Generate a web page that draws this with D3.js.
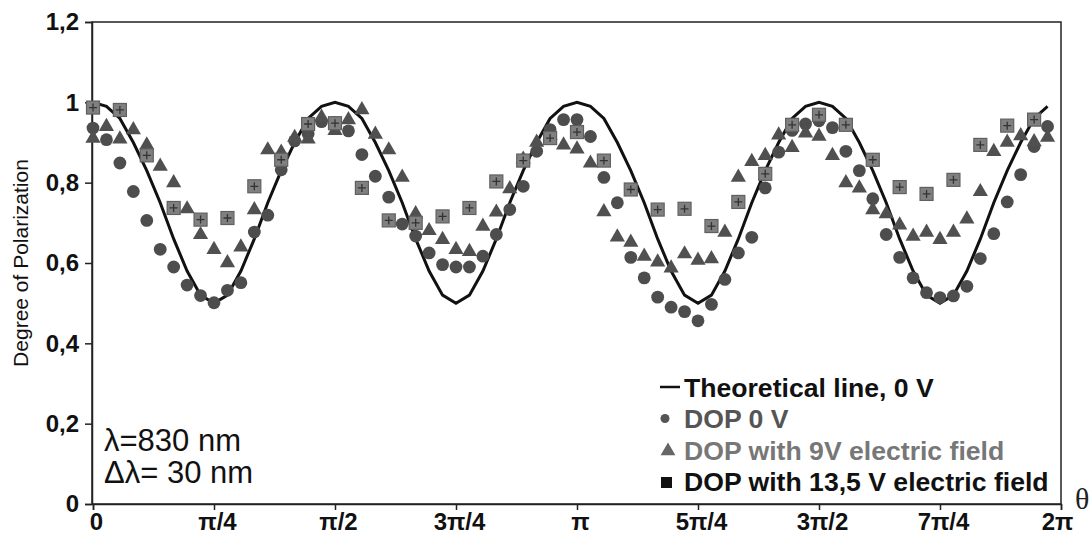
<!DOCTYPE html>
<html>
<head>
<meta charset="utf-8">
<script src="https://cdn.jsdelivr.net/npm/d3@7"></script>
<style>
  body { margin: 0; background: #fff; }
  svg { display: block; }
</style>
</head>
<body>
<div id="vizArea"></div>
<script>
// angle of each sample, degrees (0 .. 355, step 5)
var angles = d3.range(0, 360, 5);

// theoretical curve, 0 V (every 5 degrees)
var theory = [
  1.00, 0.99, 0.96, 0.90, 0.83, 0.75, 0.66, 0.58, 0.52, 0.50, 0.52, 0.58, 0.66, 0.75, 0.83, 0.90, 0.96, 0.99,
  1.00, 0.99, 0.96, 0.90, 0.83, 0.75, 0.66, 0.58, 0.52, 0.50, 0.52, 0.58, 0.66, 0.75, 0.83, 0.90, 0.96, 0.99,
  1.00, 0.99, 0.96, 0.90, 0.83, 0.75, 0.66, 0.58, 0.52, 0.50, 0.52, 0.58, 0.66, 0.75, 0.83, 0.90, 0.96, 0.99,
  1.00, 0.99, 0.96, 0.90, 0.83, 0.75, 0.66, 0.58, 0.52, 0.50, 0.52, 0.58, 0.66, 0.75, 0.83, 0.90, 0.96, 0.99
];

// DOP 0 V (circles)
var dop0 = [
  0.936, 0.907, 0.849, 0.778, 0.706, 0.634, 0.590, 0.545, 0.519, 0.501, 0.532, 0.551,
  0.677, 0.719, 0.832, 0.904, 0.921, 0.952, 0.950, 0.929, 0.870, 0.816, 0.764, 0.697,
  0.667, 0.625, 0.596, 0.590, 0.590, 0.617, 0.671, 0.733, 0.791, 0.878, 0.932, 0.957,
  0.957, 0.915, 0.813, 0.750, 0.614, 0.563, 0.515, 0.490, 0.479, 0.456, 0.497, 0.559,
  0.625, 0.664, 0.787, 0.876, 0.930, 0.946, 0.954, 0.937, 0.878, 0.830, 0.760, 0.671,
  0.614, 0.563, 0.526, 0.514, 0.518, 0.542, 0.611, 0.673, 0.752, 0.820, 0.890, 0.940
];

// DOP with 9 V (triangles)
var dop9 = [
  0.913, 0.942, 0.911, 0.934, 0.896, 0.843, 0.802, 0.737, 0.673, 0.636, 0.603, 0.642,
  0.735, 0.884, 0.878, 0.915, 0.911, 0.965, 0.932, 0.959, 0.984, 0.923, 0.884, 0.816,
  0.725, 0.683, 0.661, 0.636, 0.631, 0.694, 0.729, 0.787, 0.861, 0.903, 0.920, 0.896,
  0.886, 0.851, 0.730, 0.667, 0.654, 0.619, 0.605, 0.590, 0.625, 0.609, 0.613, 0.679,
  0.816, 0.855, 0.870, 0.921, 0.890, 0.926, 0.918, 0.870, 0.802, 0.789, 0.735, 0.725,
  0.697, 0.669, 0.679, 0.661, 0.679, 0.712, 0.780, 0.880, 0.903, 0.919, 0.904, 0.915
];

// DOP with 13,5 V (squares), every 10 degrees
var angles135 = d3.range(0, 360, 10);
var dop135 = [
  0.987, 0.981, 0.868, 0.737, 0.708, 0.712, 0.791, 0.857, 0.946, 0.948, 0.787, 0.706,
  0.700, 0.716, 0.737, 0.803, 0.855, 0.911, 0.926, 0.855, 0.783, 0.733, 0.735, 0.692,
  0.752, 0.822, 0.944, 0.969, 0.944, 0.857, 0.789, 0.772, 0.807, 0.894, 0.942, 0.957
];

var yTicks = [0, 0.2, 0.4, 0.6, 0.8, 1, 1.2];
var yTickLabels = ["0", "0,2", "0,4", "0,6", "0,8", "1", "1,2"];
var xTicks = [0, 45, 90, 135, 180, 225, 270, 315, 360];
var xTickLabels = ["0", "π/4", "π/2", "3π/4", "π", "5π/4", "3π/2", "7π/4", "2π"];

var W = 1091, H = 538;
var canvas = d3.select("#vizArea")
  .append("svg")
    .attr("width", W)
    .attr("height", H);

var x = d3.scaleLinear().domain([0, 360]).range([93, 1061]);
var y = d3.scaleLinear().domain([0, 1.2]).range([504, 22]);

// plot frame
canvas.append("rect")
  .attr("x", x(0) - 1).attr("y", y(1.2))
  .attr("width", x(360) - x(0) + 1).attr("height", y(0) - y(1.2))
  .attr("fill", "none").attr("stroke", "#222").attr("stroke-width", 1.5);

// y axis
var yAxis = canvas.append("g")
  .attr("transform", "translate(" + (x(0) - 1) + ",0)")
  .call(d3.axisLeft(y).tickValues(yTicks).tickSize(7).tickPadding(6)
    .tickFormat(function (d, i) { return yTickLabels[i]; }));
yAxis.select(".domain").attr("stroke", "#222").attr("stroke-width", 1.5);
yAxis.selectAll("line").attr("stroke", "#222").attr("stroke-width", 1.5);
yAxis.selectAll("text")
  .attr("font-family", "Liberation Sans, Arial, sans-serif")
  .attr("font-weight", "bold").attr("font-size", 24).attr("fill", "#111");

// x axis
var xAxis = canvas.append("g")
  .attr("transform", "translate(0," + y(0) + ")")
  .call(d3.axisBottom(x).tickValues(xTicks).tickSize(6).tickPadding(3)
    .tickFormat(function (d, i) { return xTickLabels[i]; }));
xAxis.select(".domain").attr("stroke", "#222").attr("stroke-width", 1.5);
xAxis.selectAll("line").attr("stroke", "#222").attr("stroke-width", 1.5);
xAxis.selectAll("text")
  .attr("dx", function (d, i) { return i === xTicks.length - 1 ? -4 : 3; })
  .attr("font-family", "Liberation Sans, Arial, sans-serif")
  .attr("font-weight", "bold").attr("font-size", 24).attr("fill", "#111");

// y title
canvas.append("text")
  .attr("transform", "translate(28,263) rotate(-90)")
  .attr("text-anchor", "middle")
  .attr("font-family", "Liberation Sans, Arial, sans-serif")
  .attr("font-size", 21).attr("fill", "#111")
  .text("Degree of Polarization");

// theta label
canvas.append("text")
  .attr("x", 1075).attr("y", 509)
  .attr("font-family", "Liberation Serif, serif")
  .attr("font-size", 30).attr("fill", "#222")
  .text("θ");

// theoretical line
var line = d3.line()
  .x(function (d, i) { return x(angles[i]); })
  .y(function (d) { return y(d); });
canvas.append("path")
  .datum(theory)
  .attr("d", line)
  .attr("fill", "none").attr("stroke", "#111").attr("stroke-width", 3);

// circles
canvas.append("g").selectAll("circle")
  .data(dop0).enter().append("circle")
    .attr("cx", function (d, i) { return x(angles[i]); })
    .attr("cy", function (d) { return y(d); })
    .attr("r", 6.4)
    .attr("fill", "#4d4d4d");

// triangles
var tri = d3.symbol().type(d3.symbolTriangle).size(100);
canvas.append("g").selectAll("path")
  .data(dop9).enter().append("path")
    .attr("d", tri)
    .attr("transform", function (d, i) { return "translate(" + x(angles[i]) + "," + (y(d) + 1) + ")"; })
    .attr("fill", "#505050");

// squares with a cross
var sq = canvas.append("g").selectAll("g")
  .data(dop135).enter().append("g")
    .attr("transform", function (d, i) { return "translate(" + x(angles135[i]) + "," + y(d) + ")"; });
sq.append("rect")
  .attr("x", -6.5).attr("y", -6.5).attr("width", 13).attr("height", 13)
  .attr("fill", "#808080").attr("stroke", "#606060").attr("stroke-width", 1.2);
sq.append("path")
  .attr("d", "M-4,0H4M0,-4V4")
  .attr("stroke", "#333").attr("stroke-width", 1.3);

// note
var note = canvas.append("g")
  .attr("font-family", "Liberation Sans, Arial, sans-serif")
  .attr("font-size", 31).attr("fill", "#111");
note.append("text").attr("x", 104).attr("y", 451).text("λ=830 nm");
note.append("text").attr("x", 104).attr("y", 483).text("Δλ= 30 nm");

// legend
var legendItems = [
  { label: "Theoretical line, 0 V", color: "#111" },
  { label: "DOP 0 V", color: "#555" },
  { label: "DOP with 9V electric field", color: "#777" },
  { label: "DOP with 13,5 V electric field", color: "#111" }
];
var legend = canvas.append("g")
  .attr("font-family", "Liberation Sans, Arial, sans-serif")
  .attr("font-weight", "bold");
var rows = legend.selectAll("g").data(legendItems).enter().append("g")
  .attr("transform", function (d, i) { return "translate(0," + (397 + i * 31.3) + ")"; });
rows.append("text")
  .attr("x", 684).attr("font-size", 26.6)
  .attr("fill", function (d) { return d.color; })
  .text(function (d) { return d.label; });

// legend marks
var lg = canvas.append("g");
lg.append("line")
  .attr("x1", 660).attr("x2", 680).attr("y1", 387).attr("y2", 387)
  .attr("stroke", "#111").attr("stroke-width", 2.5);
lg.append("circle")
  .attr("cx", 665).attr("cy", 418.5).attr("r", 4.5).attr("fill", "#555");
lg.append("path")
  .attr("d", d3.symbol().type(d3.symbolTriangle).size(95))
  .attr("transform", "translate(668,451)")
  .attr("fill", "#666");
lg.append("rect")
  .attr("x", 661).attr("y", 477).attr("width", 11).attr("height", 11)
  .attr("fill", "#111");
</script>
</body>
</html>
